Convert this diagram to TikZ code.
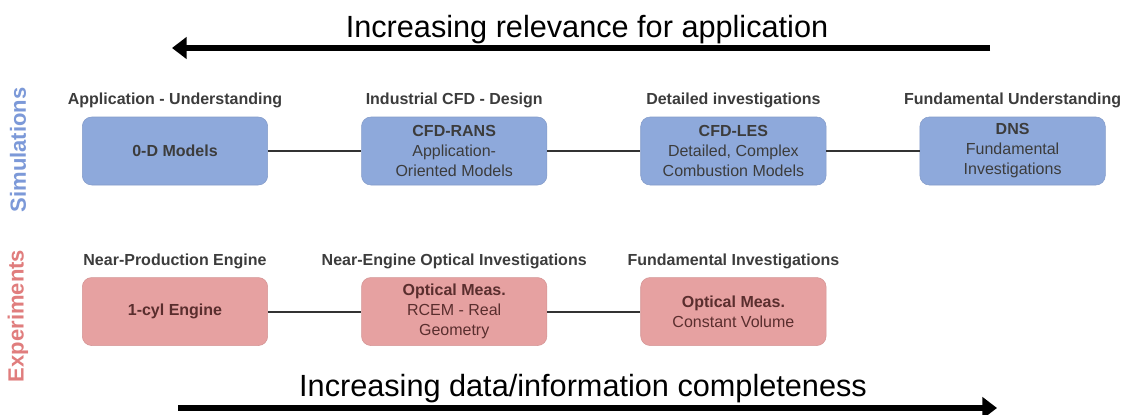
\documentclass[tikz,border=0pt]{standalone}
\usepackage{fontspec}
\setmainfont{Liberation Sans}
\usepackage{tikz}
\usetikzlibrary{
    arrows.meta,
    positioning
}
\definecolor{simblue}{HTML}{8EA9DB}
\definecolor{simlabel}{HTML}{7C99D8}
\definecolor{exppink}{HTML}{E6A1A1}
\definecolor{explabel}{HTML}{E07D7D}
\definecolor{boxtext}{HTML}{3C3C3C}
\definecolor{exptext}{HTML}{5A2E2E}
\tikzstyle{simbox} = [
    rectangle,
    rounded corners=7pt,
    draw=simblue!92!black,
    line width=0.4pt,
    fill=simblue,
    minimum width=139pt,
    minimum height=51pt,
    align=center,
    text=boxtext,
    font=\fontsize{12}{15}\selectfont
]
\tikzstyle{expbox} = [
    simbox,
    draw=exppink!92!black,
    fill=exppink,
    text=exptext
]
\tikzstyle{caption} = [
    text=boxtext,
    font=\fontsize{12}{14}\selectfont\bfseries
]
\tikzstyle{sidelabel} = [
    rotate=90,
    font=\fontsize{16.5}{18}\selectfont\bfseries
]
\tikzstyle{link} = [
    line width=1.5pt,
    draw=black!80
]
\tikzstyle{bigarrow} = [
    -{Triangle[length=11pt,width=16pt]},
    line width=3.8pt,
    draw=black
]
\tikzstyle{headline} = [
    anchor=base,
    font=\fontsize{23}{26}\selectfont
]
\begin{document}
\begin{tikzpicture}[x=0.75pt, y=-0.75pt, node distance=70pt]
    \useasboundingbox (0,0) rectangle (1137,414);

    % top arrow
    \coordinate (relR) at (990,48);
    \coordinate (relL) at (172,48);
    \draw[bigarrow] (relR) -- (relL);
    \node[headline] (relText) at (587,37) {Increasing relevance for application};

    % simulations
    \node[simbox] (sim1) at (175,151) {\textbf{0-D Models}};
    \node[simbox, right=of sim1] (sim2) {\textbf{CFD-RANS}\\Application-\\Oriented Models};
    \node[simbox, right=of sim2] (sim3) {\textbf{CFD-LES}\\Detailed, Complex\\Combustion Models};
    \node[simbox, right=of sim3] (sim4) {\textbf{DNS}\\Fundamental\\Investigations};

    \node[caption, above=3pt of sim1] (cap1) {Application - Understanding};
    \node[caption, above=3pt of sim2] (cap2) {Industrial CFD - Design};
    \node[caption, above=3pt of sim3] (cap3) {Detailed investigations};
    \node[caption, above=3pt of sim4] (cap4) {Fundamental Understanding};

    \draw[link] (sim1) -- (sim2);
    \draw[link] (sim2) -- (sim3);
    \draw[link] (sim3) -- (sim4);

    % experiments
    \node[expbox, below=69pt of sim1] (exp1) {\textbf{1-cyl Engine}};
    \node[expbox, right=of exp1] (exp2) {\textbf{Optical Meas.}\\RCEM - Real\\Geometry};
    \node[expbox, right=of exp2] (exp3) {\textbf{Optical Meas.}\\Constant Volume};

    \node[caption, above=3pt of exp1] (cap5) {Near-Production Engine};
    \node[caption, above=3pt of exp2] (cap6) {Near-Engine Optical Investigations};
    \node[caption, above=3pt of exp3] (cap7) {Fundamental Investigations};

    \draw[link] (exp1) -- (exp2);
    \draw[link] (exp2) -- (exp3);

    % side labels
    \node[sidelabel, text=simlabel] (simName) at (18,150) {Simulations};
    \node[sidelabel, text=explabel] (expName) at (18,316) {Experiments};

    % bottom arrow
    \coordinate (datL) at (178,408);
    \coordinate (datR) at (997,408);
    \draw[bigarrow] (datL) -- (datR);
    \node[headline] (datText) at (583,396) {Increasing data/information completeness};
\end{tikzpicture}
\end{document}
